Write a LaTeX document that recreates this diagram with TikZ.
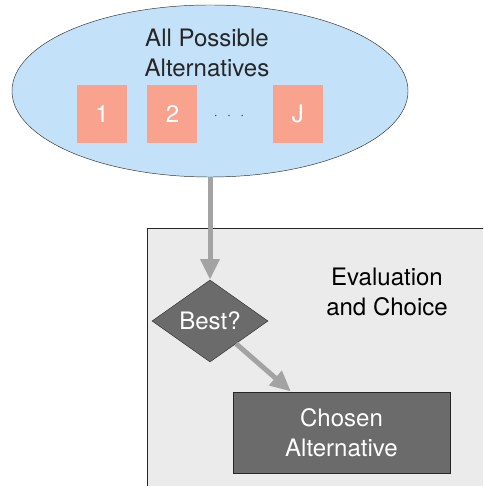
\documentclass[tikz,border=0pt]{standalone}
\usepackage{fontspec}
\setmainfont{TeX Gyre Heros}
\usetikzlibrary{arrows.meta,positioning,shapes.geometric}
\definecolor{SkyBlue}{HTML}{C3E2FA}
\definecolor{Salmon}{HTML}{F9A38F}
\definecolor{PanelGray}{HTML}{EBEBEB}
\definecolor{DarkGray}{HTML}{6B6B6B}
\definecolor{ArrowGray}{HTML}{A3A3A3}

\begin{document}
\begin{tikzpicture}[x=0.03cm,y=-0.03cm,font=\fontsize{20.5}{25.6}\selectfont,>={Triangle[width=0.55cm,length=0.62cm]},
    altbox/.style={fill=Salmon,text=white,minimum width=1.5cm,minimum height=1.74cm},
    flow/.style={->,ArrowGray,line width=0.15cm}]
    \useasboundingbox (0,0) rectangle (483,486);
    \clip (0,0) rectangle (483,486);
    \node[draw=black!85,line width=1.2pt,fill=PanelGray,anchor=north west,minimum width=10.8cm,minimum height=8.4cm] (panel) at (147,228) {};
    \node[align=center] (stage) at (387,292) {Evaluation\\and Choice};
    \node[draw=black!80,fill=SkyBlue,ellipse,minimum width=11.88cm,minimum height=5.16cm] (pool) at (210,91) {};
    \node[align=center,text=black!85] (title) at (207,53) {All Possible\\Alternatives};
    \node[altbox] (alt1) at (102,114) {1};
    \node[altbox,right=0.6cm of alt1] (alt2) {2};
    \node[altbox,right=2.25cm of alt2] (altJ) {J};
    \node[text=black!75,font=\large] (dots) at (229,116) {$\cdot\;\,\cdot\;\,\cdot$};
    \node[diamond,draw=black!80,fill=DarkGray,text=white,inner sep=0pt,minimum width=3.48cm,minimum height=2.46cm] (best) at (210,321) {Best?};
    \node[draw=black!85,line width=0.8pt,fill=DarkGray,text=white,align=center,minimum width=6.51cm,minimum height=2.43cm] (chosen) at (341.5,432.5) {Chosen\\Alternative};
    \draw[flow] (pool) -- (best);
    \draw[flow] (best) -- (chosen.141);
  \end{tikzpicture}
\end{document}
